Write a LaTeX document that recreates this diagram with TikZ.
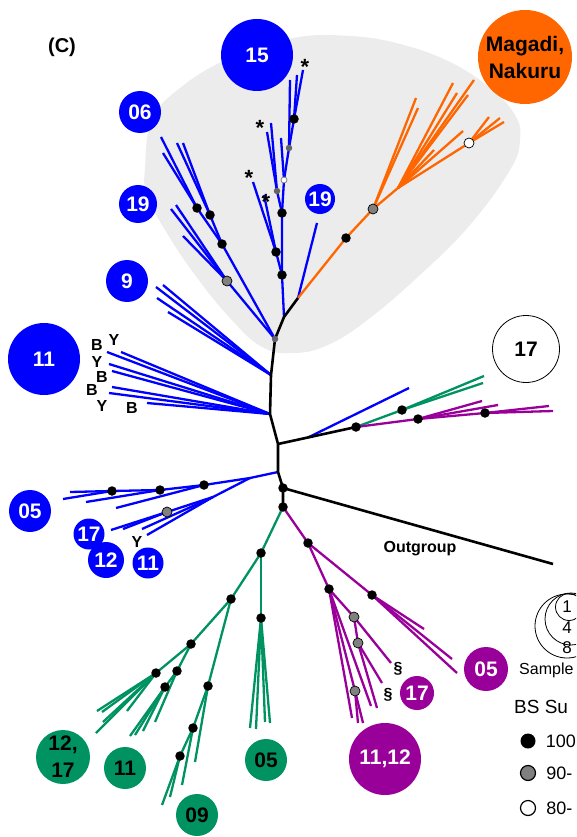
\documentclass[tikz,border=0pt]{standalone}
\usepackage{fontspec}
\setmainfont{Liberation Sans}
\usetikzlibrary{positioning}
\definecolor{cblue}{RGB}{0,0,255}
\definecolor{corange}{RGB}{255,102,0}
\definecolor{cgreen}{RGB}{0,146,96}
\definecolor{cpurple}{RGB}{153,0,153}
\definecolor{cshade}{RGB}{236,236,236}
\definecolor{cdot}{RGB}{128,128,128}
\definecolor{cdotdark}{RGB}{100,100,100}

\begin{document}
\begin{tikzpicture}[x=1pt, y=-1pt,
    trunk/.style={line width=2.6pt, black, line join=round},
    blueb/.style={line width=2.3pt, cblue},
    orangeb/.style={line width=2.3pt, corange},
    greenb/.style={line width=2.3pt, cgreen},
    purpleb/.style={line width=2.3pt, cpurple},
    bsfull/.style={circle, fill=black, inner sep=0pt, minimum size=9.5pt},
    bsmid/.style={circle, fill=cdot, draw=black, line width=0.7pt, inner sep=0pt, minimum size=10pt},
    bslow/.style={circle, fill=white, draw=black, line width=0.7pt, inner sep=0pt, minimum size=10pt},
    bssmall/.style={circle, fill=cdotdark, inner sep=0pt, minimum size=6.5pt},
    bssmallw/.style={circle, fill=white, draw=cdot, line width=0.8pt, inner sep=0pt, minimum size=6pt},
    lab/.style={circle, inner sep=0pt, align=center, font=\bfseries\fontsize{21}{27}\selectfont},
    bluelab/.style={lab, fill=cblue, text=white},
    greenlab/.style={lab, fill=cgreen, text=black},
    purplelab/.style={lab, fill=cpurple, text=white},
    tiplab/.style={inner sep=0pt, font=\bfseries\fontsize{16}{16}\selectfont},
    starlab/.style={inner sep=0pt, font=\bfseries\fontsize{22}{22}\selectfont},
    legtext/.style={inner sep=0pt, anchor=west, font=\fontsize{18}{18}\selectfont}
]
\useasboundingbox (0,0) rectangle (576,837);
\clip (0,0) rectangle (576,837);

% Shaded clade
\fill[cshade] plot[smooth cycle, tension=0.7] coordinates {(145,168) (152,120) (180,88) (230,58) (293,38) (350,36) (400,44) (450,62) (490,88) (515,115) (520,140) (510,170) (470,225) (420,275) (370,318) (330,344) (295,353) (262,347) (230,318) (195,275) (165,230) (147,195)};

% Backbone
\coordinate (bR) at (298,298);
\coordinate (bS) at (284,317);
\coordinate (bG) at (275,339);
\coordinate (b9) at (271,375);
\coordinate (b11) at (270,414);
\coordinate (bJ) at (278,444);
\coordinate (b05) at (278,472);
\coordinate (bO) at (283,488);
\coordinate (bGP) at (283,507);
\coordinate (og) at (553,564);

% Right clade
\coordinate (rA) at (356,427);
\coordinate (rB) at (308,437.5);
\coordinate (rG) at (402,410);
\coordinate (rP) at (418,419);
\coordinate (rP2) at (485,413);

% Green clade
\coordinate (gA) at (261,553);
\coordinate (gB) at (261,618);
\coordinate (gC) at (231,599);
\coordinate (gD) at (208,686);
\coordinate (gE) at (193,728);
\coordinate (gF) at (180,756);
\coordinate (gH) at (191,644);
\coordinate (gI) at (156,673);
\coordinate (gJ) at (177,671);
\coordinate (gK) at (165,687);

% Purple clade
\coordinate (pA) at (308,543);
\coordinate (pB) at (372,595);
\coordinate (pC) at (329,589);
\coordinate (pD) at (354,617);
\coordinate (pE) at (358,643);
\coordinate (pF) at (355,691);

% Blue clades
\coordinate (aP) at (227,281);
\coordinate (aQ) at (222,244);
\coordinate (aR) at (210,215);
\coordinate (aS) at (197,208);
\coordinate (sA) at (282,275);
\coordinate (sB) at (276,252);
\coordinate (sC) at (282,213);
\coordinate (sD) at (277,191);
\coordinate (sE) at (284,180);
\coordinate (sF) at (289,148);
\coordinate (sG) at (294,119);
\coordinate (c1) at (250,478);
\coordinate (c2) at (204,485);
\coordinate (c3) at (160,490);
\coordinate (c4) at (112,491);
\coordinate (c5) at (213,497);
\coordinate (c6) at (167,512);

% Orange clade
\coordinate (oA) at (346,238);
\coordinate (oB) at (373,209);
\coordinate (oC) at (398,188);
\coordinate (oD) at (469,143);

% Blue branches
\draw[blueb] (bS) -- (sA) -- (sC) -- (sE) -- (sF) -- (sG);
\draw[blueb] (sA) -- (sB);
\draw[blueb] (sC) -- (sD);
\draw[blueb] (bG) -- (aP);
\draw[blueb] (bG) -- (aQ) -- (aR);
\draw[blueb] (aQ) -- (aS);
\draw[blueb] (b05) -- (c1) -- (c2) -- (c3) -- (c4);
\draw[blueb] (c1) -- (c5) -- (c6);
\foreach \n/\x/\y [count=\i] in {sB/253/182, sB/264/195, sD/267/132, sD/271/123, sE/281/138, sF/290/80, sG/297/75, sG/303/70, bR/317/223,
    aP/171/209, aP/176/205, aP/183/236, aR/177/143, aR/183/143, aS/161/137, aS/163/153,
    b9/156/287, b9/163/285, b9/157/298, b9/168/312,
    b11/107/352, b11/121/352, b11/109/364, b11/112/371, b11/112/387, b11/109/393, b11/147/403,
    c2/116/508, c3/86/502, c4/70/492, c4/63/499, c6/111/530, c6/123/529, c5/142/529, c5/147/535, rB/409/388} {
  \coordinate (bl\i) at (\x,\y);
  \draw[blueb] (\n) -- (bl\i);
}

% Orange branches
\draw[orangeb] (bR) -- (oA) -- (oB) -- (oC) -- (oD);
\foreach \n/\x/\y [count=\i] in {oB/416/98, oB/418/108, oC/453/83, oC/457/93, oC/474/80, oC/468/95, oC/434/150, oC/463/131,
    oD/489/117, oD/500/118, oD/504/122} {
  \coordinate (ol\i) at (\x,\y);
  \draw[orangeb] (\n) -- (ol\i);
}

% Green branches
\draw[greenb] (bGP) -- (gA) -- (gC) -- (gH) -- (gI);
\draw[greenb] (gA) -- (gB);
\draw[greenb] (gC) -- (gD) -- (gE) -- (gF);
\draw[greenb] (gH) -- (gJ) -- (gK);
\draw[greenb] (rA) -- (rG);
\foreach \n/\x/\y [count=\i] in {gB/250/728, gB/256/729, gB/265/722, gB/270/723, gD/195/762, gE/182/785, gF/162/805, gF/170/797,
    gI/97/711, gI/102/712, gI/96/733, gI/103/722, gI/127/711, gJ/155/722, gK/130/736, gK/135/735, gK/143/731,
    rG/484/376, rG/483/383} {
  \coordinate (gl\i) at (\x,\y);
  \draw[greenb] (\n) -- (gl\i);
}

% Purple branches
\draw[purpleb] (bGP) -- (pA) -- (pB);
\draw[purpleb] (pA) -- (pC) -- (pD) -- (pE);
\draw[purpleb] (pC) -- (pF);
\draw[purpleb] (rA) -- (rP) -- (rP2);
\foreach \n/\x/\y [count=\i] in {pB/424/629, pB/452/659, pB/457/673, pD/391/663, pE/382/683, pE/377/708,
    pF/358/723, pF/363/723, pC/352/718, pC/371/706,
    rP/482/401, rP/498/405, rP2/549/406, rP2/553/411} {
  \coordinate (pl\i) at (\x,\y);
  \draw[purpleb] (\n) -- (pl\i);
}

% Black backbone
\draw[trunk] (bR) -- (bS) -- (bG) -- (b9) -- (b11) -- (bJ) -- (b05) -- (bO) -- (bGP);
\draw[trunk] (bJ) -- (rA);
\draw[trunk] (bO) -- (og);

% Bootstrap dots
\foreach \c in {rA, rG, rP, rP2, bO, bGP, gA, gB, gC, gD, gE, gF, gH, gI, gJ, gK, pA, pB, pC, aQ, aR, aS, sA, sB, sC, sG, oA, c2, c3, c4}
  \node[bsfull] (dot-\c) at (\c) {};
\foreach \c in {pD, pE, pF, aP, oB, c6}
  \node[bsmid] (dot-\c) at (\c) {};
\foreach \c in {bG, sD, sF}
  \node[bssmall] (dot-\c) at (\c) {};
\node[bssmallw] (dot-sE) at (sE) {};
\node[bslow] (dot-oD) at (oD) {};

% Blue labels
\node[bluelab, minimum size=72pt] (c15) at (257,55) {15};
\node[bluelab, minimum size=42pt] (c06) at (140,112) {06};
\node[bluelab, minimum size=38pt] (c19l) at (138,204) {19};
\node[bluelab, minimum size=42pt] (c9) at (127,281) {9};
\node[bluelab, minimum size=30pt] (c19r) at (320,199) {19};
\node[bluelab, minimum size=72pt] (c11b) at (44,359) {11};
\node[bluelab, minimum size=42pt] (c05) at (30,511) {05};
\node[bluelab, minimum size=31pt] (c17) at (89,534) {17};
\node[bluelab, minimum size=36pt] (c12) at (106,560) {12};
\node[bluelab, minimum size=31pt] (c11s) at (148,563) {11};

% Orange and open labels
\node[lab, fill=corange, text=black, minimum size=94pt] (cMN) at (525,57) {Magadi,\\Nakuru};
\node[lab, draw=black, line width=0.8pt, fill=white, minimum size=67pt] (c17w) at (526,349) {17};

% Green labels
\node[greenlab, minimum size=54pt] (g1217) at (63,757) {12,\\17};
\node[greenlab, minimum size=42pt] (g11) at (125,768) {11};
\node[greenlab, minimum size=42pt] (g09) at (197,815) {09};
\node[greenlab, minimum size=42pt] (g05) at (266,760) {05};

% Purple labels
\node[purplelab, minimum size=44pt] (p05) at (486,669) {05};
\node[purplelab, minimum size=34pt] (p17) at (417,693) {17};
\node[purplelab, minimum size=72pt] (p1112) at (385,759) {11,12};

% Tip marks
\node[starlab] (st1) at (305,67) {*};
\node[starlab] (st2) at (260,128) {*};
\node[starlab] (st3) at (249,178) {*};
\node[starlab] (st4) at (266,202) {*};
\node[tiplab] (tb1) at (97,345) {B};
\node[tiplab] (ty1) at (114,340) {Y};
\node[tiplab] (ty2) at (97,362) {Y};
\node[tiplab] (tb2) at (102,377) {B};
\node[tiplab] (tb3) at (92,390) {B};
\node[tiplab] (ty3) at (102,406) {Y};
\node[tiplab] (tb4) at (132,408) {B};
\node[tiplab] (ty4) at (137,542) {Y};
\node[tiplab] (sec1) at (398,669) {\S};
\node[tiplab] (sec2) at (388,695) {\S};

% Other labels
\node[inner sep=0pt, font=\bfseries\fontsize{16}{16}\selectfont] (outg) at (420,549) {Outgroup};
\node[inner sep=0pt, font=\bfseries\fontsize{20}{20}\selectfont] (panel) at (62,47) {(C)};

% Legend
\node[circle, draw=black, line width=0.8pt, minimum size=64pt, inner sep=0pt] (s8) at (567,626) {};
\node[circle, draw=black, line width=0.8pt, minimum size=52pt, inner sep=0pt] (s4) at (571,619) {};
\node[circle, draw=black, line width=0.8pt, minimum size=27pt, inner sep=0pt] (s1) at (569,607) {};
\node[inner sep=0pt, font=\fontsize{17}{17}\selectfont] (n1) at (567,607) {1};
\node[inner sep=0pt, font=\fontsize{17}{17}\selectfont] (n4) at (567,628) {4};
\node[inner sep=0pt, font=\fontsize{17}{17}\selectfont] (n8) at (567,648) {8};
\node[legtext, font=\fontsize{16}{16}\selectfont] (tsize) at (519,670) {Sample};
\node[legtext, font=\fontsize{19}{19}\selectfont] (tbs) at (514,707) {BS Su};
\node[bsfull, minimum size=15pt] (k100) at (528,741) {};
\node[bsmid, minimum size=15pt, line width=1.2pt] (k90) at (528,773) {};
\node[bslow, minimum size=15pt, line width=1.2pt] (k80) at (528,808) {};
\node[legtext, right=10pt of k100] (t100) {100};
\node[legtext, right=10pt of k90] (t90) {90-};
\node[legtext, right=10pt of k80] (t80) {80-};

\end{tikzpicture}
\end{document}
